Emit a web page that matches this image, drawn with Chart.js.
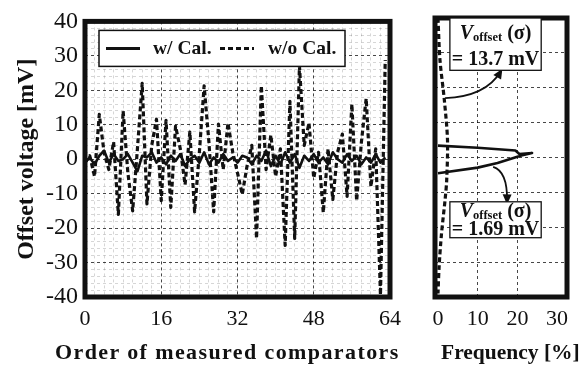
<!DOCTYPE html>
<html>
<head>
<meta charset="utf-8">
<script src="https://cdn.jsdelivr.net/npm/chart.js@4.4.1/dist/chart.umd.min.js"></script>
<style>
    body { margin: 0; background: #fff; width: 581px; height: 367px; position: relative; overflow: hidden; font-family: "Liberation Serif", serif; color: #111; }
    #offsetChart { position: absolute; left: 0; top: 0; }
    #freqChart { position: absolute; left: 410px; top: 0; }
    .xtitle { position: absolute; top: 339px; line-height: 26px; font-weight: bold; white-space: nowrap; }
</style>
</head>
<body>
<canvas id="offsetChart" width="410" height="367"></canvas>
<canvas id="freqChart" width="171" height="367"></canvas>
<div class="xtitle" style="left:55px; font-size:22px; letter-spacing:1.4px">Order of measured comparators</div>
<div class="xtitle" style="left:441px; font-size:21.5px">Frequency [%]</div>
<script>
// 比較器編號 0..63
const comparators = [
    0, 1, 2, 3, 4, 5, 6, 7, 8, 9, 10, 11, 12, 13, 14, 15,
    16, 17, 18, 19, 20, 21, 22, 23, 24, 25, 26, 27, 28, 29, 30, 31,
    32, 33, 34, 35, 36, 37, 38, 39, 40, 41, 42, 43, 44, 45, 46, 47,
    48, 49, 50, 51, 52, 53, 54, 55, 56, 57, 58, 59, 60, 61, 62, 63
];

// 校正後 offset (mV)
const withCal = [
    -1, 0.5, -1.5, 1, 2.5, -1, 1.5, -0.5, 0, 1.5, -1, -3.5, 1, 0.5, 2, -1,
    0.5, -1.5, 1, -0.5, 1.5, -2, 0, 1, -1, 2, -1.5, 0.5, -1, 1.5, -0.5, 0.5,
    -1, 1, 0.5, -1.5, 1, -0.5, 2.5, -2, 1, -1.5, 2, -1, 1.5, -2.5, 1, -0.5,
    1.5, -1, 0.5, -1.5, 2, 0, -1, 1.5, -0.5, 1, -1.5, 0.5, -1, 1.5, -1, 0.5
];

// 未校正 offset (mV)
const withoutCal = [
    -1, 1, -5, 13, 2, -3, 5, -16, 14, -4, -15, 3, 22, -13, 4, 11.6,
    -12, 11.3, -14, 9.6, 3, -7.4, 7.9, -15.3, 2, 21.3, 5, -15.3, 10.2, -3, 10.5, 2,
    -4, -10.2, -2, 4, -23, 21.3, -3, 7, -5, 3, -25, 16.8, -23, 27, 4, 10.5,
    -5.5, 2, -15.5, 3, -11.7, 2, 7.3, -10.8, 16, -12.1, 5, 17.6, -8, 3, -39.4, 28.8
];

// 分佈曲線 (頻率 %, 電壓 mV)
const calFreq = [0, 10, 19.5, 20.5, 23.7, 21, 15, 10, 0];
const calVolt = [3.4, 2.8, 2.0, 1.0, 1.3, 0.6, -1.6, -2.9, -4.5];
const noCalFreq = [0, 0.5, 1.6, 2.4, 2.2, 1.8, 0.9, 0.3, 0];
const noCalVolt = [40, 28, 16.5, 5, -6.4, -12, -21.7, -31, -39];

const freqTicks = [0, 10, 20, 30];
const sigmaLabels = ['13.7', '1.69'];

const SERIF = '"Liberation Serif", "Times New Roman", serif';
const INK = '#111';
const MAJOR = 'rgba(0,0,0,0.72)';
const MINOR = 'rgba(0,0,0,0.16)';

Chart.defaults.font.family = SERIF;
Chart.defaults.color = INK;

const toPoints = (xs, ys) => xs.map((x, i) => ({ x: x, y: ys[i] }));

// 外框
const framePlugin = {
    id: 'frame',
    afterDatasetsDraw(chart) {
        const { ctx, chartArea: a } = chart;
        ctx.save();
        ctx.strokeStyle = INK;
        ctx.lineWidth = 5;
        ctx.strokeRect(a.left, a.top, a.right - a.left, a.bottom - a.top);
        ctx.restore();
    }
};

// 圖例 (畫在圖內)
const boxLegend = {
    id: 'boxLegend',
    afterDatasetsDraw(chart) {
        const { ctx, chartArea: a } = chart;
        const x0 = a.left + 14, y0 = a.top + 9, w = 246, h = 36;
        const yMid = y0 + h / 2;
        ctx.save();
        ctx.fillStyle = '#fff';
        ctx.fillRect(x0, y0, w, h);
        ctx.strokeStyle = INK;
        ctx.lineWidth = 1.5;
        ctx.strokeRect(x0, y0, w, h);
        const slots = [{ line: 7, text: 54 }, { line: 121, text: 169 }];
        chart.data.datasets.forEach((ds, i) => {
            const s = slots[i];
            ctx.setLineDash(ds.borderDash || []);
            ctx.lineWidth = 3;
            ctx.beginPath();
            ctx.moveTo(x0 + s.line, yMid);
            ctx.lineTo(x0 + s.line + 34, yMid);
            ctx.stroke();
            ctx.setLineDash([]);
            ctx.fillStyle = INK;
            ctx.font = 'bold 19.5px ' + SERIF;
            ctx.textBaseline = 'middle';
            ctx.fillText(ds.label, x0 + s.text, yMid + 1);
        });
        ctx.restore();
    }
};

new Chart(document.getElementById('offsetChart'), {
    type: 'line',
    data: {
        datasets: [
            {
                label: 'w/ Cal.',
                data: toPoints(comparators, withCal),
                borderColor: INK,
                borderWidth: 2.6,
                borderJoinStyle: 'round',
                pointRadius: 0,
                tension: 0
            },
            {
                label: 'w/o Cal.',
                data: toPoints(comparators, withoutCal),
                borderColor: INK,
                borderWidth: 3.2,
                borderDash: [5, 3],
                borderJoinStyle: 'round',
                pointRadius: 0,
                tension: 0
            }
        ]
    },
    options: {
        responsive: false,
        animation: false,
        layout: { padding: { top: 18, right: 9, left: 0, bottom: 0 } },
        plugins: { legend: { display: false }, tooltip: { enabled: false } },
        scales: {
            x: {
                type: 'linear',
                min: 0,
                max: 64,
                ticks: {
                    stepSize: 2,
                    maxTicksLimit: 100,
                    autoSkip: false,
                    maxRotation: 0,
                    padding: 9,
                    color: INK,
                    font: { family: SERIF, size: 22 },
                    callback: v => (v % 16 === 0 ? String(v) : '')
                },
                grid: { color: c => (c.tick && c.tick.value % 16 === 0 ? MAJOR : MINOR), drawTicks: false, lineWidth: 1 },
                border: { display: false, dash: [3, 3] },
                afterFit: s => { s.height = 70; }
            },
            y: {
                min: -40,
                max: 40,
                ticks: {
                    stepSize: 2,
                    maxTicksLimit: 100,
                    autoSkip: false,
                    padding: 7,
                    color: INK,
                    font: { family: SERIF, size: 24 },
                    callback: v => (v % 10 === 0 ? String(v) : '')
                },
                grid: { color: c => (c.tick && c.tick.value % 10 === 0 ? MAJOR : MINOR), drawTicks: false, lineWidth: 1 },
                border: { display: false, dash: [3, 3] },
                title: {
                    display: true,
                    text: 'Offset voltage [mV]',
                    color: INK,
                    font: { family: SERIF, size: 24, weight: 'bold' },
                    padding: { top: 12, bottom: 0 }
                },
                afterFit: s => { s.width = 85; }
            }
        }
    },
    plugins: [framePlugin, boxLegend]
});

// 標註: 方框 + 箭頭 (資料座標)
const notes = [
    { box: [3, 26, 40, 25], arrow: [[1.8, 17], [12, 17.5], [15.7, 24.5]] },
    { box: [3, 26, -12.7, -23], arrow: [[13.9, -2.7], [17.5, -4], [17.4, -12.3]] }
];

const sigmaNotes = {
    id: 'sigmaNotes',
    afterDraw(chart) {
        const { ctx } = chart;
        const xs = chart.scales.x, ys = chart.scales.y;
        const px = v => xs.getPixelForValue(v), py = v => ys.getPixelForValue(v);
        ctx.save();
        notes.forEach((n, i) => {
            // 箭頭
            const [p0, pc, p1] = n.arrow.map(p => [px(p[0]), py(p[1])]);
            ctx.strokeStyle = INK;
            ctx.fillStyle = INK;
            ctx.lineWidth = 1.8;
            ctx.setLineDash([]);
            ctx.beginPath();
            ctx.moveTo(p0[0], p0[1]);
            ctx.quadraticCurveTo(pc[0], pc[1], p1[0], p1[1]);
            ctx.stroke();
            const ang = Math.atan2(p1[1] - pc[1], p1[0] - pc[0]);
            ctx.beginPath();
            ctx.moveTo(p1[0] + 4 * Math.cos(ang), p1[1] + 4 * Math.sin(ang));
            ctx.lineTo(p1[0] - 6 * Math.cos(ang) + 4.5 * Math.sin(ang), p1[1] - 6 * Math.sin(ang) - 4.5 * Math.cos(ang));
            ctx.lineTo(p1[0] - 6 * Math.cos(ang) - 4.5 * Math.sin(ang), p1[1] - 6 * Math.sin(ang) + 4.5 * Math.cos(ang));
            ctx.closePath();
            ctx.fill();

            // 方框
            const x0 = px(n.box[0]), x1 = px(n.box[1]), y0 = py(n.box[2]), y1 = py(n.box[3]);
            ctx.fillStyle = '#fff';
            ctx.fillRect(x0, y0, x1 - x0, y1 - y0);
            ctx.strokeStyle = INK;
            ctx.lineWidth = 1.3;
            ctx.strokeRect(x0, y0, x1 - x0, y1 - y0);

            // 文字
            const cx = (x0 + x1) / 2;
            const h = y1 - y0;
            const l1 = y0 + h * (i === 0 ? 0.3 : 0.27);
            const l2 = y0 + h * (i === 0 ? 0.8 : 0.78);
            ctx.fillStyle = INK;
            ctx.textBaseline = 'middle';
            const fBig = 'bold 20px ' + SERIF, fIt = 'italic bold 20px ' + SERIF, fSub = 'bold 12.5px ' + SERIF;
            ctx.font = fIt; const wV = ctx.measureText('V').width;
            ctx.font = fSub; const wS = ctx.measureText('offset').width;
            ctx.font = fBig; const wP = ctx.measureText(' (σ)').width;
            let x = cx - (wV + wS + wP) / 2;
            ctx.textAlign = 'left';
            ctx.font = fIt; ctx.fillText('V', x, l1); x += wV;
            ctx.font = fSub; ctx.fillText('offset', x, l1 + 4); x += wS;
            ctx.font = fBig; ctx.fillText(' (σ)', x, l1);
            ctx.textAlign = 'center';
            ctx.fillText('= ' + sigmaLabels[i] + ' mV', cx, l2);
        });
        ctx.restore();
    }
};

new Chart(document.getElementById('freqChart'), {
    type: 'line',
    data: {
        datasets: [
            {
                label: 'w/ Cal.',
                data: toPoints(calFreq, calVolt),
                borderColor: INK,
                borderWidth: 2.6,
                borderJoinStyle: 'round',
                pointRadius: 0,
                tension: 0
            },
            {
                label: 'w/o Cal.',
                data: toPoints(noCalFreq, noCalVolt),
                borderColor: INK,
                borderWidth: 3.2,
                borderDash: [5, 3],
                pointRadius: 0,
                tension: 0.3
            }
        ]
    },
    options: {
        responsive: false,
        animation: false,
        layout: { padding: { top: 18, right: 14, left: 25, bottom: 0 } },
        plugins: { legend: { display: false }, tooltip: { enabled: false } },
        scales: {
            x: {
                type: 'linear',
                min: -0.75,
                max: 32.5,
                afterBuildTicks: s => { s.ticks = freqTicks.map(v => ({ value: v })); },
                ticks: {
                    maxRotation: 0,
                    padding: 9,
                    color: INK,
                    font: { family: SERIF, size: 22 },
                    callback: v => String(v)
                },
                grid: { color: c => (c.tick && (c.tick.value === 10 || c.tick.value === 20) ? MAJOR : 'rgba(0,0,0,0)'), drawTicks: false },
                border: { display: false, dash: [3, 3] },
                afterFit: s => { s.height = 70; }
            },
            y: {
                min: -40,
                max: 40,
                ticks: { stepSize: 10, display: false },
                grid: { color: MAJOR, drawTicks: false },
                border: { display: false, dash: [3, 3] },
                afterFit: s => { s.width = 0; }
            }
        }
    },
    plugins: [framePlugin, sigmaNotes]
});
</script>
</body>
</html>
